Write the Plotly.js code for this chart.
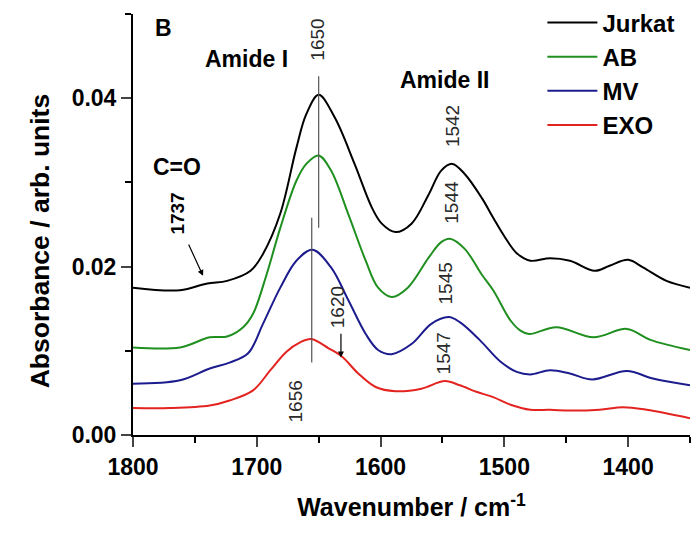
<!DOCTYPE html>
<html><head><meta charset="utf-8">
<script src="https://cdn.plot.ly/plotly-3.0.1.min.js"></script>
<style>html,body{margin:0;padding:0;background:#fff}#chart{width:691px;height:535px}</style>
</head><body><div id="chart"></div>
<script>
const seriesNames = ["Jurkat", "AB", "MV", "EXO"];
const seriesColors = ["#000000", "#1f8f1f", "#1c1c8e", "#e3231f"];

const jurkatX = [1800,1762,1740,1724,1705,1695,1681,1668,1660,1650,1637,1621,1607,1599,1588,1575,1561,1551,1542,1532,1518,1509,1500,1490,1479,1463,1447,1427,1415,1400,1388,1369,1350];
const jurkatY = [0.0175,0.0172,0.0180,0.0183,0.0195,0.0215,0.0263,0.0341,0.0381,0.0404,0.0377,0.0322,0.0270,0.0251,0.0241,0.0251,0.0286,0.0314,0.0322,0.0310,0.0281,0.0258,0.0236,0.0216,0.0207,0.0210,0.0207,0.0195,0.0201,0.0208,0.0199,0.0183,0.0175];

const abX = [1800,1762,1738,1724,1711,1703,1692,1681,1668,1660,1650,1640,1626,1612,1602,1591,1578,1561,1551,1544,1532,1518,1509,1495,1487,1480,1458,1428,1401,1382,1350];
const abY = [0.0104,0.0104,0.0116,0.0117,0.0128,0.0144,0.0191,0.0246,0.0302,0.0322,0.0332,0.0314,0.0262,0.0207,0.0175,0.0164,0.0175,0.0211,0.0229,0.0233,0.0221,0.0190,0.0172,0.0136,0.0124,0.0120,0.0128,0.0116,0.0126,0.0113,0.0101];

const mvX = [1800,1762,1738,1722,1707,1695,1681,1668,1655,1640,1626,1612,1602,1591,1575,1559,1545,1536,1520,1503,1490,1479,1463,1447,1429,1401,1380,1350];
const mvY = [0.0061,0.0065,0.0079,0.0086,0.0097,0.0132,0.0175,0.0207,0.0220,0.0199,0.0160,0.0120,0.0101,0.0096,0.0108,0.0132,0.0140,0.0134,0.0113,0.0087,0.0075,0.0072,0.0077,0.0073,0.0066,0.0076,0.0067,0.0059];

const exoX = [1800,1770,1738,1722,1703,1689,1676,1665,1656,1642,1631,1618,1604,1588,1567,1548,1536,1522,1509,1495,1479,1463,1447,1423,1404,1385,1350];
const exoY = [0.0032,0.0032,0.0035,0.0041,0.0053,0.0077,0.0099,0.0110,0.0114,0.0103,0.0093,0.0073,0.0057,0.0052,0.0055,0.0064,0.0059,0.0051,0.0045,0.0036,0.0030,0.0030,0.0029,0.0030,0.0033,0.0030,0.0020];

const xTickVals = [1800, 1700, 1600, 1500, 1400];
const yTickVals = [0.00, 0.02, 0.04];
const yTickText = ["0.00", "0.02", "0.04"];

// peak labels: [text, wavenumber, absorbance]
const peakLabels = [
  ["1650", 1651, 0.0470],
  ["1656", 1669, 0.0040],
  ["1620", 1635, 0.0152],
  ["1542", 1541.4, 0.0367],
  ["1544", 1542.2, 0.0276],
  ["1545", 1547.9, 0.0180],
  ["1547", 1549.5, 0.0097]
];
const bandLabels = [
  ["Amide I", 1708.7, 0.0446],
  ["Amide II", 1548.7, 0.0422],
  ["C=O", 1764.4, 0.0318],
  ["B", 1775, 0.0483]
];
// marker lines: [wavenumber, yStart, yEnd]
const markerLines = [[1650, 0.0246, 0.0426], [1655.6, 0.0086, 0.0258]];

const xs = [jurkatX, abX, mvX, exoX];
const ys = [jurkatY, abY, mvY, exoY];

const traces = seriesNames.map((n, i) => ({
  x: xs[i], y: ys[i], name: n, type: 'scatter', mode: 'lines',
  line: {color: seriesColors[i], width: 2, shape: 'spline', smoothing: 1}
}));

const font = "Liberation Sans, Arial, sans-serif";
const annotations = [];
peakLabels.forEach(p => annotations.push({
  x: p[1], y: p[2], xref: 'x', yref: 'y', text: p[0], showarrow: false, textangle: -90,
  font: {family: font, size: 19, color: '#2a2a2a'}
}));
bandLabels.forEach(p => annotations.push({
  x: p[1], y: p[2], xref: 'x', yref: 'y', text: '<b>' + p[0] + '</b>', showarrow: false,
  font: {family: font, size: 23, color: '#000'}
}));
annotations.push({x: 1764.4, y: 0.0263, xref: 'x', yref: 'y', text: '<b>1737</b>', showarrow: false, textangle: -90,
  font: {family: font, size: 19, color: '#000'}});
annotations.push({x: 1743.4, y: 0.0189, ax: 1755.6, ay: 0.0228, xref: 'x', yref: 'y', axref: 'x', ayref: 'y',
  text: '', showarrow: true, arrowhead: 2, arrowsize: 1, arrowwidth: 1.2, arrowcolor: '#000'});
annotations.push({x: 1632, y: 0.0092, ax: 1632, ay: 0.0122, xref: 'x', yref: 'y', axref: 'x', ayref: 'y',
  text: '', showarrow: true, arrowhead: 2, arrowsize: 1, arrowwidth: 1.2, arrowcolor: '#000'});
// y-axis title (placed as annotation to match the reference's vertical offset)
annotations.push({x: -0.196, y: 0.462, xref: 'paper', yref: 'paper', text: '<b>Absorbance / arb. units</b>',
  showarrow: false, textangle: -90, font: {family: font, size: 26.5, color: '#000'}});

const shapes = markerLines.map(m => ({
  type: 'line', xref: 'x', yref: 'y', x0: m[0], x1: m[0], y0: m[1], y1: m[2],
  line: {color: '#555', width: 1.2}
}));

const layout = {
  width: 691, height: 535,
  margin: {l: 133, r: 1, t: 12.5, b: 100},
  paper_bgcolor: '#fff', plot_bgcolor: '#fff',
  showlegend: true,
  legend: {x: 0.735, y: 1.03, xanchor: 'left', yanchor: 'top', bgcolor: 'rgba(0,0,0,0)',
    font: {family: font, size: 24, color: '#000', weight: 'bold'}, itemwidth: 50, tracegroupgap: 0},
  xaxis: {
    range: [1800, 1350], tickvals: xTickVals, ticks: 'outside', ticklen: 10, tickwidth: 2,
    showline: true, linewidth: 2, linecolor: '#000', showgrid: false, zeroline: false,
    tickfont: {family: font, size: 23, color: '#000', weight: 'bold'},
    minor: {dtick: 50, tick0: 1800, ticks: 'outside', ticklen: 6, tickwidth: 2, tickcolor: '#000', showgrid: false},
    title: {text: '<b>Wavenumber / cm<sup>-1</sup></b>', font: {family: font, size: 25, color: '#000'}, standoff: 20}
  },
  yaxis: {
    range: [0, 0.05], tickvals: yTickVals, ticktext: yTickText, ticks: 'outside', ticklen: 10, tickwidth: 2,
    showline: true, linewidth: 2, linecolor: '#000', showgrid: false, zeroline: false,
    tickfont: {family: font, size: 23, color: '#000', weight: 'bold'},
    minor: {dtick: 0.01, tick0: 0, ticks: 'outside', ticklen: 6, tickwidth: 2, tickcolor: '#000', showgrid: false}
  },
  annotations: annotations,
  shapes: shapes
};
Plotly.newPlot('chart', traces, layout, {displayModeBar: false, staticPlot: true});
</script></body></html>
